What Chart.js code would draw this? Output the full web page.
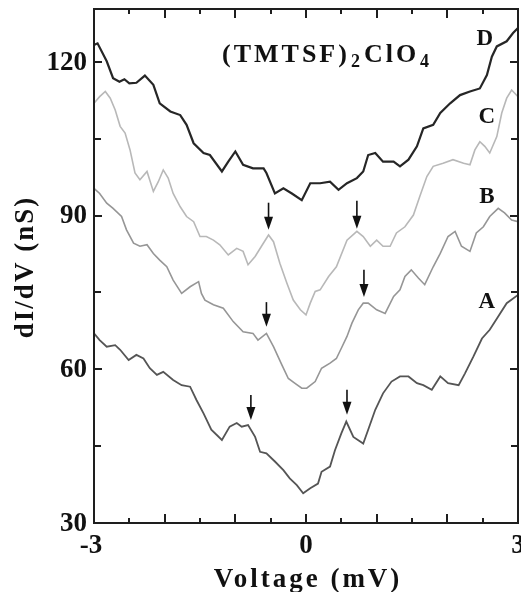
<!DOCTYPE html>
<html>
<head>
<meta charset="utf-8">
<script src="https://cdn.jsdelivr.net/npm/chart.js@4.4.0/dist/chart.umd.min.js"></script>
<style>
  body { margin: 0; background: #fff; }
  #wrap { width: 521px; height: 592px; }
</style>
</head>
<body>
<div id="wrap"><canvas id="chart" width="521" height="592"></canvas></div>
<script>
// Curve D (top, dark)
const voltD = [-3, -2.95, -2.82, -2.73, -2.64, -2.57, -2.5, -2.4, -2.28, -2.16,
  -2.07, -1.92, -1.78, -1.69, -1.59, -1.45, -1.36, -1.19, -1.1, -1.0,
  -0.89, -0.75, -0.6, -0.56, -0.44, -0.32, -0.2, -0.06, 0.06, 0.2,
  0.34, 0.46, 0.58, 0.72, 0.81, 0.88, 0.98, 1.09, 1.24, 1.33,
  1.45, 1.57, 1.66, 1.8, 1.9, 2.04, 2.18, 2.32, 2.46, 2.56,
  2.63, 2.7, 2.84, 2.93, 3.0];
const condD = [123.3, 123.6, 120.1, 116.8, 116.1, 116.6, 115.8, 115.9, 117.3, 115.5,
  111.9, 110.3, 109.6, 107.7, 104.1, 102.2, 101.8, 98.6, 100.5, 102.5,
  99.9, 99.2, 99.2, 98.3, 94.3, 95.3, 94.3, 93.0, 96.3, 96.3,
  96.6, 95.0, 96.3, 97.3, 98.6, 101.8, 102.2, 100.5, 100.5, 99.6,
  100.9, 103.5, 107.0, 107.7, 110.0, 111.9, 113.5, 114.2, 114.8, 117.4,
  121.0, 123.0, 124.0, 125.6, 126.6];

// Curve C (light gray)
const voltC = [-3, -2.92, -2.84, -2.77, -2.7, -2.63, -2.56, -2.49, -2.42, -2.35,
  -2.25, -2.16, -2.09, -2.02, -1.95, -1.88, -1.78, -1.69, -1.59, -1.5,
  -1.41, -1.31, -1.22, -1.1, -0.98, -0.89, -0.82, -0.72, -0.63, -0.53,
  -0.46, -0.37, -0.27, -0.18, -0.08, 0, 0.06, 0.13, 0.2, 0.32,
  0.43, 0.58, 0.72, 0.81, 0.91, 1.0, 1.09, 1.19, 1.28, 1.4,
  1.52, 1.61, 1.71, 1.8, 1.94, 2.08, 2.23, 2.32, 2.39, 2.46,
  2.53, 2.6, 2.7, 2.77, 2.84, 2.91, 3.0];
const condC = [111.9, 113.2, 114.2, 112.9, 110.6, 107.4, 106.1, 102.8, 98.3, 97.0,
  98.6, 94.7, 96.6, 98.9, 97.3, 94.3, 91.7, 89.8, 88.8, 85.9,
  85.9, 85.2, 84.3, 82.3, 83.6, 83.0, 80.4, 82.0, 84.0, 86.2,
  84.9, 80.7, 76.8, 73.5, 71.6, 70.6, 72.9, 75.2, 75.5, 78.1,
  80.0, 85.2, 86.9, 85.9, 84.0, 85.2, 84.0, 84.0, 86.6, 87.8,
  90.1, 93.7, 97.6, 99.6, 100.2, 100.9, 100.2, 99.9, 102.8, 104.4,
  103.5, 102.2, 105.4, 110.0, 112.9, 114.5, 113.2];

// Curve B (medium gray)
const voltB = [-3, -2.92, -2.82, -2.73, -2.61, -2.54, -2.44, -2.35, -2.25, -2.16,
  -2.07, -1.97, -1.88, -1.76, -1.64, -1.52, -1.48, -1.43, -1.31, -1.17,
  -1.03, -0.89, -0.75, -0.68, -0.56, -0.46, -0.34, -0.25, -0.16, -0.06,
  0.01, 0.13, 0.22, 0.34, 0.43, 0.5, 0.58, 0.65, 0.74, 0.81,
  0.88, 1.0, 1.12, 1.24, 1.33, 1.4, 1.49, 1.59, 1.68, 1.8,
  1.9, 2.01, 2.11, 2.2, 2.32, 2.41, 2.51, 2.6, 2.72, 2.81,
  2.91, 3.0];
const condB = [95.3, 94.3, 92.4, 91.4, 89.8, 87.2, 84.6, 84.0, 84.3, 82.6,
  81.3, 80.0, 77.4, 74.8, 76.1, 77.1, 74.8, 73.5, 72.6, 71.9,
  69.3, 67.3, 67.0, 65.7, 67.0, 64.4, 60.8, 58.2, 57.3, 56.3,
  56.3, 57.6, 60.2, 61.2, 62.1, 64.1, 66.4, 69.0, 71.6, 72.9,
  72.9, 71.6, 70.9, 74.2, 75.5, 78.1, 79.4, 77.8, 76.5, 80.0,
  82.6, 85.9, 86.9, 84.0, 83.0, 86.6, 87.8, 89.8, 91.4, 90.5,
  89.1, 88.8];

// Curve A (bottom, dark gray)
const voltA = [-3, -2.92, -2.82, -2.7, -2.63, -2.51, -2.4, -2.3, -2.21, -2.11,
  -2.02, -1.88, -1.76, -1.64, -1.55, -1.45, -1.34, -1.19, -1.08, -0.98,
  -0.91, -0.82, -0.72, -0.65, -0.56, -0.44, -0.32, -0.23, -0.13, -0.04,
  0.06, 0.17, 0.22, 0.34, 0.41, 0.5, 0.57, 0.67, 0.81, 0.88,
  0.98, 1.09, 1.21, 1.33, 1.45, 1.57, 1.66, 1.78, 1.9, 2.01,
  2.16, 2.25, 2.37, 2.49, 2.6, 2.72, 2.84, 3.0];
const condA = [67.0, 65.7, 64.4, 64.7, 63.8, 61.8, 62.8, 62.1, 60.2, 58.9,
  59.5, 57.9, 56.9, 56.6, 54.0, 51.4, 48.2, 46.2, 48.8, 49.5,
  48.8, 49.1, 46.8, 43.9, 43.6, 42.0, 40.3, 38.7, 37.4, 35.8,
  36.8, 37.7, 40.0, 41.0, 44.2, 47.5, 49.8, 46.8, 45.5, 48.2,
  52.1, 55.3, 57.6, 58.6, 58.6, 57.3, 56.9, 56.0, 58.6, 57.3,
  56.9, 59.2, 62.5, 66.0, 67.7, 70.3, 72.9, 74.5];

// Axis ticks
const xLabelTicks = [-3, 0, 3];
const xMajorTicks = [-2, -1, 0, 1, 2];
const xMinorTicks = [-2.5, -1.5, -0.5, 0.5, 1.5, 2.5];
const yLabelTicks = [30, 60, 90, 120];
const yMinorTicks = [45, 75, 105];

// Arrows: [voltage, tail value, tip value]
const arrowsC = [[-0.53, 92.5, 87.2], [0.72, 92.9, 87.4]];
const arrowsB = [[-0.56, 73.1, 68.3], [0.82, 79.4, 74.1]];
const arrowsA = [[-0.78, 55.0, 50.1], [0.58, 56.0, 51.1]];

// Curve labels: [text, voltage, value]
const curveLabels = [['D', 2.53, 123.3], ['C', 2.56, 108.1], ['B', 2.56, 92.5], ['A', 2.56, 72.0]];

const serif = '"Liberation Serif", "DejaVu Serif", serif';

function toPoints(xs, ys) {
  return xs.map(function(v, i) { return { x: v, y: ys[i] }; });
}

// Frame, inward ticks, tick labels, arrows and texts
const decorations = {
  id: 'decorations',
  afterDraw(chart) {
    const ctx = chart.ctx;
    const x = chart.scales.x;
    const y = chart.scales.y;
    const left = Math.round(x.left), right = Math.round(x.right);
    const top = Math.round(y.top), bottom = Math.round(y.bottom);
    ctx.save();
    ctx.fillStyle = '#1e1e1e';

    // frame (as filled bars)
    ctx.fillRect(left - 1, top - 1, right - left + 2, 2);
    ctx.fillRect(left - 1, bottom - 1, right - left + 2, 2);
    ctx.fillRect(left - 1, top - 1, 2, bottom - top + 2);
    ctx.fillRect(right - 1, top - 1, 2, bottom - top + 2);

    // inward ticks
    function xTick(v, len) {
      const px = Math.round(x.getPixelForValue(v));
      ctx.fillRect(px - 1, bottom - len, 2, len);
      ctx.fillRect(px - 1, top, 2, len);
    }
    function yTick(v, len) {
      const py = Math.round(y.getPixelForValue(v));
      ctx.fillRect(left, py - 1, len, 2);
      ctx.fillRect(right - len, py - 1, len, 2);
    }
    xMajorTicks.forEach(function(v) { xTick(v, 9); });
    xMinorTicks.forEach(function(v) { xTick(v, 5); });
    yLabelTicks.forEach(function(v) { yTick(v, 8); });
    yMinorTicks.forEach(function(v) { yTick(v, 7); });

    // tick labels
    ctx.fillStyle = '#111';
    ctx.font = 'bold 27px ' + serif;
    ctx.textAlign = 'right';
    ctx.textBaseline = 'middle';
    yLabelTicks.forEach(function(v) {
      ctx.fillText(String(v), left - 7, y.getPixelForValue(v) + 1);
    });
    ctx.textAlign = 'center';
    ctx.textBaseline = 'alphabetic';
    xLabelTicks.forEach(function(v) {
      const label = v < 0 ? '-' + Math.abs(v) : String(v);
      ctx.fillText(label, x.getPixelForValue(v) - (v < 0 ? 3 : 0), 553);
    });

    // arrows
    ctx.strokeStyle = '#111';
    ctx.lineWidth = 1.6;
    arrowsC.concat(arrowsB, arrowsA).forEach(function(ar) {
      const px = x.getPixelForValue(ar[0]);
      const t0 = y.getPixelForValue(ar[1]);
      const tip = y.getPixelForValue(ar[2]);
      ctx.beginPath();
      ctx.moveTo(px, t0); ctx.lineTo(px, tip - 10);
      ctx.stroke();
      ctx.beginPath();
      ctx.moveTo(px - 4.5, tip - 13);
      ctx.lineTo(px + 4.5, tip - 13);
      ctx.lineTo(px, tip);
      ctx.closePath();
      ctx.fill();
    });

    // curve labels
    ctx.font = 'bold 23px ' + serif;
    ctx.textAlign = 'center';
    curveLabels.forEach(function(l) {
      ctx.fillText(l[0], x.getPixelForValue(l[1]), y.getPixelForValue(l[2]));
    });

    // compound title
    ctx.textAlign = 'left';
    ctx.letterSpacing = '3px';
    let tx = 222;
    const parts = [['(TMTSF)', 26, 62], ['2', 18, 67], ['ClO', 26, 62], ['4', 18, 67]];
    parts.forEach(function(p) {
      ctx.font = 'bold ' + p[1] + 'px ' + serif;
      ctx.fillText(p[0], tx, p[2]);
      tx += ctx.measureText(p[0]).width + 1;
    });

    // axis titles
    ctx.font = 'bold 27px ' + serif;
    ctx.letterSpacing = '3px';
    ctx.textAlign = 'center';
    ctx.fillText('Voltage (mV)', (left + right) / 2 + 2, 587);
    ctx.translate(33, 267);
    ctx.rotate(-Math.PI / 2);
    ctx.letterSpacing = '2px';
    ctx.fillText('dI/dV (nS)', 0, 0);

    ctx.restore();
  }
};

new Chart(document.getElementById('chart').getContext('2d'), {
  type: 'line',
  data: {
    datasets: [
      { label: 'D', data: toPoints(voltD, condD), borderColor: '#262626', borderWidth: 2.2 },
      { label: 'C', data: toPoints(voltC, condC), borderColor: '#b8b8b8', borderWidth: 1.6 },
      { label: 'B', data: toPoints(voltB, condB), borderColor: '#969696', borderWidth: 1.6 },
      { label: 'A', data: toPoints(voltA, condA), borderColor: '#555555', borderWidth: 1.8 }
    ]
  },
  options: {
    responsive: false,
    animation: false,
    elements: { point: { radius: 0 }, line: { tension: 0 } },
    layout: { padding: { top: 9, right: 3, left: 0, bottom: 0 } },
    plugins: { legend: { display: false }, tooltip: { enabled: false } },
    scales: {
      x: {
        type: 'linear',
        min: -3,
        max: 3,
        grid: { display: false },
        border: { display: false },
        ticks: { display: false },
        afterFit: function(scale) { scale.height = 69; }
      },
      y: {
        min: 30,
        max: 130.3,
        grid: { display: false },
        border: { display: false },
        ticks: { display: false },
        afterFit: function(scale) { scale.width = 94; }
      }
    }
  },
  plugins: [decorations]
});
</script>
</body>
</html>
